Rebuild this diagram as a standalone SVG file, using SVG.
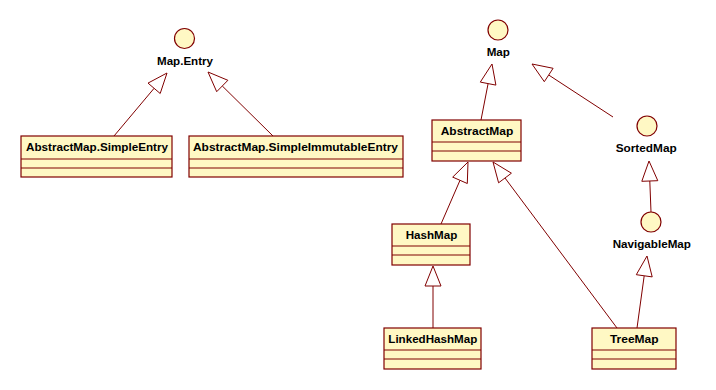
<svg xmlns="http://www.w3.org/2000/svg" width="716" height="390" viewBox="0 0 716 390">
<style>
.box{fill:#FFF8C4;stroke:#800000;stroke-width:1.2}
.div{stroke:#800000;stroke-width:1.2}
.iface{fill:#FFF8C4;stroke:#800000;stroke-width:1.2}
.lbl{font-family:"Liberation Sans",Arial,sans-serif;font-size:11.5px;font-weight:bold;fill:#000;text-anchor:middle}
.edge{stroke:#800000;stroke-width:1;fill:none}
.head{fill:#fff;stroke:#800000;stroke-width:1}
</style>
<rect width="716" height="390" fill="#fff"/>
<g id="connectors">
<line class="edge" x1="114" y1="136" x2="154.1" y2="88.3"/>
<polygon class="head" points="167,73 160.2,93.5 148,83.1"/>
<line class="edge" x1="273" y1="136" x2="222.3" y2="86"/>
<polygon class="head" points="208,72 227.9,80.3 216.7,91.7"/>
<line class="edge" x1="481" y1="120" x2="488.1" y2="83.6"/>
<polygon class="head" points="492,64 495.9,85.1 480.3,82.1"/>
<line class="edge" x1="613" y1="117" x2="548.7" y2="75"/>
<polygon class="head" points="532,64 553.1,68.3 544.3,81.7"/>
<line class="edge" x1="651" y1="212" x2="649.8" y2="181"/>
<polygon class="head" points="649,161 657.8,180.7 641.8,181.3"/>
<line class="edge" x1="441" y1="224" x2="460" y2="180.3"/>
<polygon class="head" points="468,162 467.3,183.5 452.7,177.1"/>
<line class="edge" x1="617" y1="328" x2="505" y2="178"/>
<polygon class="head" points="493,162 511.4,173.2 498.6,182.8"/>
<line class="edge" x1="433" y1="328" x2="433" y2="286"/>
<polygon class="head" points="433,266 441,286 425,286"/>
<line class="edge" x1="637" y1="328" x2="644.2" y2="275.8"/>
<polygon class="head" points="647,256 652.2,276.9 636.3,274.7"/>
</g>
<g id="MapEntry">
<circle class="iface" cx="184.5" cy="38.5" r="10"/>
<text class="lbl" x="185" y="65" textLength="56" lengthAdjust="spacingAndGlyphs">Map.Entry</text>
</g>
<g id="Map">
<circle class="iface" cx="498" cy="30" r="10"/>
<text class="lbl" x="498.3" y="56" textLength="23.3" lengthAdjust="spacingAndGlyphs">Map</text>
</g>
<g id="SortedMap">
<circle class="iface" cx="647" cy="126" r="10"/>
<text class="lbl" x="646.2" y="152" textLength="61" lengthAdjust="spacingAndGlyphs">SortedMap</text>
</g>
<g id="NavigableMap">
<circle class="iface" cx="651" cy="222" r="10"/>
<text class="lbl" x="651.8" y="248" textLength="78.3" lengthAdjust="spacingAndGlyphs">NavigableMap</text>
</g>
<g id="SimpleEntry">
<rect class="box" x="21" y="136" width="151" height="41"/>
<line class="div" x1="21" y1="159" x2="172" y2="159"/>
<line class="div" x1="21" y1="168" x2="172" y2="168"/>
<text class="lbl" x="97" y="151" textLength="142" lengthAdjust="spacingAndGlyphs">AbstractMap.SimpleEntry</text>
</g>
<g id="SimpleImmutableEntry">
<rect class="box" x="189" y="136" width="214" height="41"/>
<line class="div" x1="189" y1="159" x2="403" y2="159"/>
<line class="div" x1="189" y1="168" x2="403" y2="168"/>
<text class="lbl" x="295.5" y="151" textLength="205" lengthAdjust="spacingAndGlyphs">AbstractMap.SimpleImmutableEntry</text>
</g>
<g id="AbstractMap">
<rect class="box" x="432" y="120" width="89" height="41"/>
<line class="div" x1="432" y1="142" x2="521" y2="142"/>
<line class="div" x1="432" y1="151" x2="521" y2="151"/>
<text class="lbl" x="477" y="135" textLength="72.6" lengthAdjust="spacingAndGlyphs">AbstractMap</text>
</g>
<g id="HashMap">
<rect class="box" x="392" y="224" width="78" height="41"/>
<line class="div" x1="392" y1="246" x2="470" y2="246"/>
<line class="div" x1="392" y1="255" x2="470" y2="255"/>
<text class="lbl" x="431.5" y="239" textLength="51.6" lengthAdjust="spacingAndGlyphs">HashMap</text>
</g>
<g id="LinkedHashMap">
<rect class="box" x="384" y="328" width="97" height="41"/>
<line class="div" x1="384" y1="350" x2="481" y2="350"/>
<line class="div" x1="384" y1="359" x2="481" y2="359"/>
<text class="lbl" x="432.8" y="343" textLength="89" lengthAdjust="spacingAndGlyphs">LinkedHashMap</text>
</g>
<g id="TreeMap">
<rect class="box" x="592" y="328" width="84" height="41"/>
<line class="div" x1="592" y1="350" x2="676" y2="350"/>
<line class="div" x1="592" y1="359" x2="676" y2="359"/>
<text class="lbl" x="634.3" y="343" textLength="48.7" lengthAdjust="spacingAndGlyphs">TreeMap</text>
</g>
</svg>
